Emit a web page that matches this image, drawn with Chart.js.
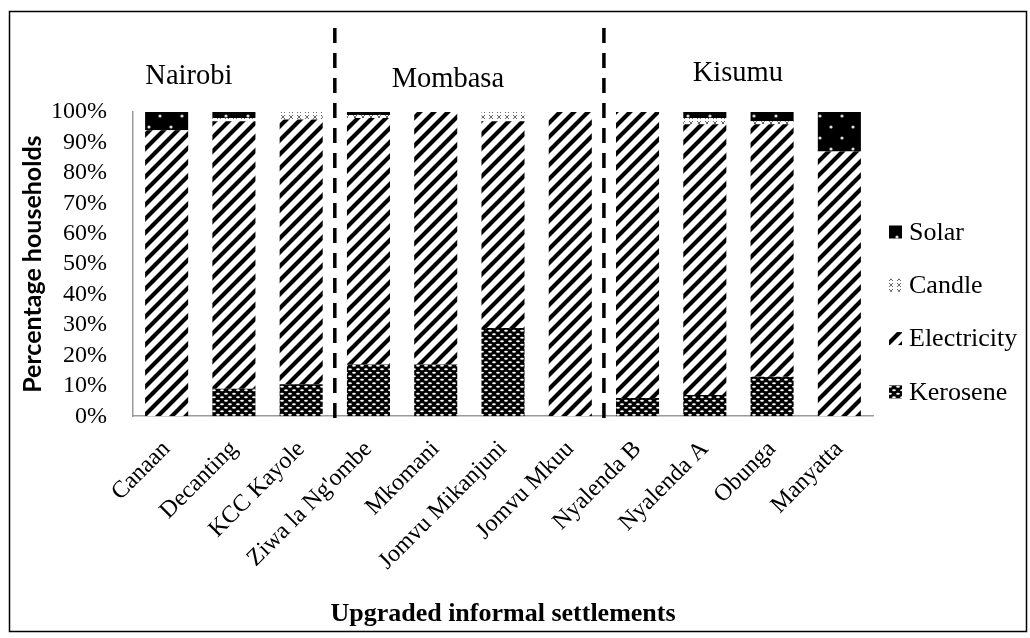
<!DOCTYPE html>
<html>
<head>
<meta charset="utf-8">
<script src="https://cdn.jsdelivr.net/npm/chart.js@4/dist/chart.umd.min.js"></script>
<style>
  html, body { margin: 0; padding: 0; background: #fff; }
  #chart { display: block; }
</style>
</head>
<body>
<canvas id="chart" width="1030" height="638"></canvas>
<script>
const settlements = ['Canaan', 'Decanting', 'KCC Kayole', "Ziwa la Ng'ombe", 'Mkomani', 'Jomvu Mikanjuni',
  'Jomvu Mkuu', 'Nyalenda B', 'Nyalenda A', 'Obunga', 'Manyatta'];
const kerosene    = [0, 9, 10.5, 17, 17, 29, 0, 6, 7, 13, 0];
const electricity = [94, 88, 87, 81, 83, 68, 100, 94, 89, 83, 87];
const candle      = [0, 1, 2.5, 1, 0, 3, 0, 0, 2, 1, 0];
const solar       = [6, 2, 0, 1, 0, 0, 0, 0, 2, 3, 13];
const yTicks = [0, 10, 20, 30, 40, 50, 60, 70, 80, 90, 100];
const cities = ['Nairobi', 'Mombasa', 'Kisumu'];
const cityAnchors = [0.33, 4.18, 8.49];   // label position along the category axis
const cityBreaks = [2.5, 6.5];            // dashed separators between groups

const serif = '"Liberation Serif", "Times New Roman", serif';

function makePattern(w, h, draw) {
  let c = document.createElement('canvas');
  c.width = w; c.height = h;
  let g = c.getContext('2d');
  draw(g, w, h);
  return g.createPattern(c, 'repeat');
}

// diagonal stripes
const stripes = makePattern(14, 14, (g, w, h) => {
  g.fillStyle = '#fff'; g.fillRect(0, 0, w, h);
  g.strokeStyle = '#000'; g.lineWidth = 4.2;
  g.beginPath();
  g.moveTo(-2, h + 2); g.lineTo(w + 2, -2);
  g.moveTo(-2, 2); g.lineTo(2, -2);
  g.moveTo(w - 2, h + 2); g.lineTo(w + 2, h - 2);
  g.stroke();
});

// black with white ovals
const ovals = makePattern(8, 7, (g, w, h) => {
  g.fillStyle = '#000'; g.fillRect(0, 0, w, h);
  g.fillStyle = '#fff';
  [[2, 1.75], [6, 5.25], [-2, 5.25], [10, 1.75]].forEach(p => {
    g.beginPath(); g.ellipse(p[0], p[1], 1.9, 1, 0, 0, Math.PI * 2); g.fill();
  });
});

// light crosses
const crosses = makePattern(8, 6, (g, w, h) => {
  g.fillStyle = '#fff'; g.fillRect(0, 0, w, h);
  g.strokeStyle = '#666'; g.lineWidth = 1;
  g.beginPath();
  g.moveTo(1, 1); g.lineTo(5, 5);
  g.moveTo(5, 1); g.lineTo(1, 5);
  g.stroke();
});

// black with white dots
const dots = makePattern(22, 22, (g, w, h) => {
  g.fillStyle = '#000'; g.fillRect(0, 0, w, h);
  g.fillStyle = '#ddd';
  [[6, 6], [17, 17]].forEach(p => {
    g.beginPath(); g.arc(p[0], p[1], 1.6, 0, Math.PI * 2); g.fill();
  });
});

const extras = {
  id: 'extras',
  afterDraw(chart) {
    let {ctx, chartArea, scales: {x, y}} = chart;
    ctx.save();
    // dashed separators
    ctx.strokeStyle = '#000';
    ctx.lineWidth = 3.5;
    ctx.setLineDash([15, 10]);
    cityBreaks.forEach(b => {
      let px = x.getPixelForValue(b);
      ctx.beginPath();
      ctx.moveTo(px, 28);
      ctx.lineTo(px, y.bottom + 8);
      ctx.stroke();
    });
    ctx.setLineDash([]);

    // city names
    ctx.fillStyle = '#000';
    ctx.font = '28.5px ' + serif;
    ctx.textAlign = 'center';
    ctx.textBaseline = 'middle';
    cities.forEach((c, i) => {
      ctx.fillText(c, x.getPixelForValue(cityAnchors[i]), [77, 80, 74][i]);
    });

    // legend, top to bottom in reverse stack order
    ctx.font = '26px ' + serif;
    ctx.textAlign = 'left';
    let items = chart.data.datasets.slice().reverse();
    items.forEach((ds, i) => {
      let cy = chartArea.top + 120 + i * 53.3;
      let bx = chartArea.right + 16;
      ctx.fillStyle = ds.backgroundColor;
      ctx.fillRect(bx, cy - 6.5, 13, 13);
      ctx.fillStyle = '#000';
      ctx.fillText(ds.label, bx + 20, cy + 1);
    });

    // outer frame
    ctx.strokeStyle = '#000';
    ctx.lineWidth = 1.5;
    ctx.strokeRect(9.5, 11.5, 1017, 620);
    ctx.restore();
  }
};

const ctx = document.getElementById('chart').getContext('2d');
new Chart(ctx, {
  type: 'bar',
  data: {
    labels: settlements,
    datasets: [
      {label: 'Kerosene', data: kerosene, backgroundColor: ovals},
      {label: 'Electricity', data: electricity, backgroundColor: stripes},
      {label: 'Candle', data: candle, backgroundColor: crosses},
      {label: 'Solar', data: solar, backgroundColor: dots}
    ]
  },
  options: {
    responsive: false,
    animation: false,
    layout: {padding: {top: 112, left: 10, right: 157, bottom: 8}},
    datasets: {bar: {categoryPercentage: 0.64, barPercentage: 1}},
    plugins: {
      tooltip: {enabled: false},
      legend: {display: false}
    },
    scales: {
      x: {
        stacked: true,
        // rotated labels may run under the y axis, as in the original
        afterFit: scale => { scale.paddingLeft = 0; },
        grid: {display: false, drawTicks: false},
        border: {color: '#9a9a9a', width: 1.5},
        ticks: {
          color: '#000', maxRotation: 45, minRotation: 45, padding: 19,
          font: {family: serif, size: 24}
        },
        title: {
          display: true, text: 'Upgraded informal settlements', color: '#000',
          font: {family: serif, size: 26, weight: 'bold'}, padding: {top: 4, bottom: 0}
        }
      },
      y: {
        stacked: true,
        min: 0, max: 100,
        afterBuildTicks: axis => { axis.ticks = yTicks.map(v => ({value: v})); },
        afterFit: scale => { scale.width = 123; },
        grid: {display: false, drawTicks: false},
        border: {color: '#9a9a9a', width: 1.5},
        ticks: {
          color: '#000', padding: 26, autoSkip: false,
          font: {family: serif, size: 24},
          callback: v => v + '%'
        },
        title: {
          display: true, text: 'Percentage households', color: '#000',
          font: {family: 'Lato', size: 25, weight: 'bold'}, padding: {top: 8, bottom: 5}
        }
      }
    }
  },
  plugins: [extras]
});
</script>
</body>
</html>
